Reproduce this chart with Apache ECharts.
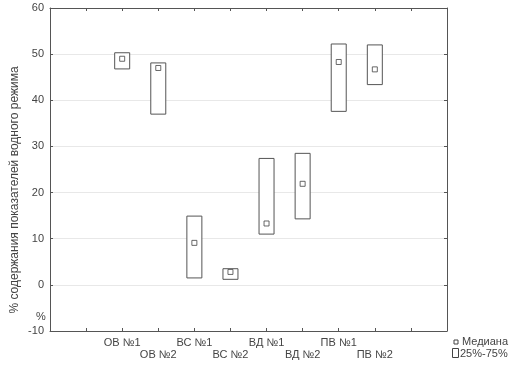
<!DOCTYPE html>
<html>
<head>
<meta charset="utf-8">
<script src="https://cdn.jsdelivr.net/npm/echarts@6/dist/echarts.min.js"></script>
<style>
  html, body { margin: 0; padding: 0; background: #fff; }
  #chart { width: 512px; height: 365px; }
</style>
</head>
<body>
<div id="chart"></div>
<script>
// категории и значения
const categories = ['ОВ №1', 'ОВ №2', 'ВС №1', 'ВС №2', 'ВД №1', 'ВД №2', 'ПВ №1', 'ПВ №2']
const q1 = [46.8, 37.0, 1.5, 1.2, 11.0, 14.3, 37.6, 43.4]
const q3 = [50.3, 48.1, 14.9, 3.5, 27.4, 28.5, 52.2, 52.0]
const medians = [49.0, 47.0, 9.1, 2.8, 13.3, 21.9, 48.3, 46.7]
const yTicks = [-10, 0, 10, 20, 30, 40, 50, 60]

// две пустые позиции слева и справа, как на исходном графике
const axisSlots = ['', ''].concat(categories, ['', ''])
const boxData = categories.map((c, i) => [i + 2, q1[i], q3[i]])
const medianData = categories.map((c, i) => [i + 2, medians[i]])

const chart = echarts.init(document.getElementById('chart'))
const grey = '#555'
const textStyle = { color: '#444', fontSize: 11, fontFamily: 'Liberation Sans, Arial, sans-serif' }

const option = {
  backgroundColor: '#fff',
  animation: false,
  grid: { left: 50, right: 65, top: 8, bottom: 34 },
  xAxis: [
    {
      type: 'category',
      data: axisSlots,
      boundaryGap: false,
      axisLine: { onZero: false, lineStyle: { color: grey } },
      axisTick: { inside: true, length: 3, interval: 0, lineStyle: { color: grey } },
      axisLabel: {
        interval: 0,
        margin: 6,
        lineHeight: 12,
        ...textStyle,
        formatter: (v, idx) => {
          const k = idx - 2
          if (k < 0 || k >= categories.length) return ''
          return k % 2 === 1 ? '\n' + v : v
        }
      },
      splitLine: { show: false }
    },
    {
      type: 'category',
      position: 'top',
      data: axisSlots,
      boundaryGap: false,
      axisLine: { onZero: false, lineStyle: { color: grey } },
      axisTick: { inside: true, length: 3, interval: 0, lineStyle: { color: grey } },
      axisLabel: { show: false }
    }
  ],
  yAxis: [
    {
      type: 'value',
      min: yTicks[0],
      max: yTicks[yTicks.length - 1],
      interval: 10,
      axisLine: { show: true, onZero: false, lineStyle: { color: grey } },
      axisTick: { show: true, inside: true, length: 3, lineStyle: { color: grey } },
      axisLabel: { margin: 6, ...textStyle },
      splitLine: { show: true, lineStyle: { color: '#e8e8e8', width: 1 } }
    },
    {
      type: 'value',
      position: 'right',
      min: yTicks[0],
      max: yTicks[yTicks.length - 1],
      interval: 10,
      axisLine: { show: true, onZero: false, lineStyle: { color: grey } },
      axisTick: { show: true, inside: true, length: 3, lineStyle: { color: grey } },
      axisLabel: { show: false },
      splitLine: { show: false }
    }
  ],
  series: [
    {
      name: '25%-75%',
      type: 'custom',
      xAxisIndex: 0,
      yAxisIndex: 0,
      data: boxData,
      renderItem: (params, api) => {
        const top = api.coord([api.value(0), api.value(2)])
        const bot = api.coord([api.value(0), api.value(1)])
        const w = 15
        return {
          type: 'rect',
          shape: { x: top[0] - w / 2, y: top[1], width: w, height: bot[1] - top[1] },
          style: { fill: '#fff', stroke: grey, lineWidth: 1 }
        }
      }
    },
    {
      name: 'Медиана',
      type: 'scatter',
      xAxisIndex: 0,
      yAxisIndex: 0,
      data: medianData,
      symbol: 'rect',
      symbolSize: 5,
      itemStyle: { color: '#fff', borderColor: '#444', borderWidth: 1 },
      z: 5
    }
  ],
  graphic: [
    {
      type: 'text',
      x: 15,
      y: 190,
      rotation: Math.PI / 2,
      style: {
        text: '% содержания показателей водного режима',
        ...textStyle,
        fontSize: 12,
        fill: '#444',
        align: 'center',
        verticalAlign: 'middle'
      }
    },
    {
      type: 'text',
      x: 41,
      y: 317,
      style: { text: '%', ...textStyle, fill: '#444', align: 'center', verticalAlign: 'middle' }
    },
    {
      type: 'rect',
      shape: { x: 454, y: 340, width: 4, height: 4 },
      style: { fill: '#fff', stroke: '#444', lineWidth: 1 }
    },
    {
      type: 'text',
      x: 462,
      y: 342,
      style: { text: 'Медиана', ...textStyle, fill: '#444', align: 'left', verticalAlign: 'middle' }
    },
    {
      type: 'rect',
      shape: { x: 452.5, y: 348.5, width: 6, height: 9 },
      style: { fill: '#fff', stroke: '#444', lineWidth: 1 }
    },
    {
      type: 'text',
      x: 460,
      y: 354,
      style: { text: '25%-75%', ...textStyle, fill: '#444', align: 'left', verticalAlign: 'middle' }
    }
  ]
}

chart.setOption(option)
</script>
</body>
</html>
